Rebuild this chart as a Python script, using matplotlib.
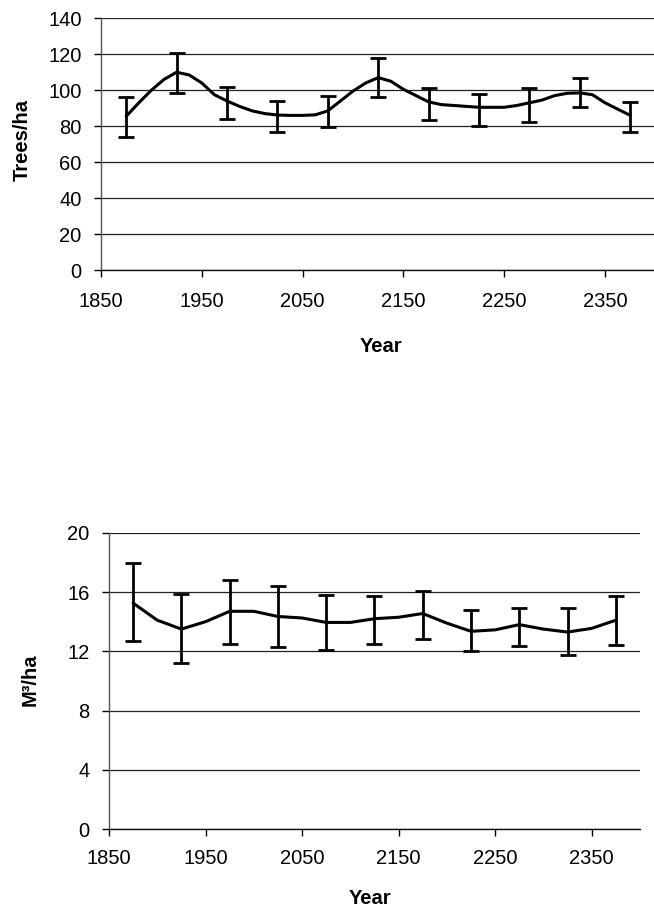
import matplotlib
matplotlib.use("Agg")
import matplotlib.pyplot as plt

plt.rcParams['font.family'] = ['Liberation Sans', 'DejaVu Sans']

# ---------------- data: top panel (Trees/ha) ----------------
top_years = [1875, 1887.5, 1900, 1912.5, 1925, 1937.5, 1950, 1962.5, 1975, 1987.5,
             2000, 2012.5, 2025, 2037.5, 2050, 2062.5, 2075, 2087.5, 2100, 2112.5,
             2125, 2137.5, 2150, 2162.5, 2175, 2187.5, 2200, 2212.5, 2225, 2237.5,
             2250, 2262.5, 2275, 2287.5, 2300, 2312.5, 2325, 2337.5, 2350, 2362.5, 2375]
top_trees = [85.5, 93, 100, 106, 110, 108.5, 104, 97.5, 94, 91,
             88.5, 87, 86.2, 86, 86, 86.3, 88.5, 94, 99.5, 104,
             107, 105, 100.5, 97, 93.5, 92, 91.5, 91, 90.5, 90.5,
             90.5, 91.5, 93, 94.5, 97, 98.3, 98.5, 97.5, 93, 89.5, 86]

bar_years = [1875, 1925, 1975, 2025, 2075, 2125, 2175, 2225, 2275, 2325, 2375]
top_bar_mean = [85.5, 110, 94, 86.2, 88.5, 107, 93.5, 90.5, 93, 98.5, 86]
top_bar_high = [96, 120.5, 101.6, 93.8, 96.8, 118, 101.4, 98, 101.5, 107, 93.5]
top_bar_low = [74, 98.5, 84, 77, 79.5, 96.5, 83.5, 80, 82.5, 90.5, 76.5]

# ---------------- data: bottom panel (M3/ha) ----------------
bot_years = [1875, 1900, 1925, 1950, 1975, 2000, 2025, 2050, 2075, 2100, 2125,
             2150, 2175, 2200, 2225, 2250, 2275, 2300, 2325, 2350, 2375]
bot_vol = [15.25, 14.1, 13.5, 14.0, 14.7, 14.7, 14.35, 14.25, 13.95, 13.95, 14.2,
           14.3, 14.55, 13.9, 13.35, 13.45, 13.8, 13.5, 13.3, 13.55, 14.1]
bot_bar_mean = [15.25, 13.5, 14.7, 14.35, 13.95, 14.2, 14.55, 13.35, 13.8, 13.3, 14.1]
bot_bar_high = [17.95, 15.84, 16.8, 16.4, 15.8, 15.75, 16.05, 14.8, 14.9, 14.9, 15.7]
bot_bar_low = [12.7, 11.24, 12.5, 12.3, 12.1, 12.5, 12.8, 12.05, 12.35, 11.75, 12.45]

x_ticks = [1850, 1950, 2050, 2150, 2250, 2350]
top_yticks = [0, 20, 40, 60, 80, 100, 120, 140]
bot_yticks = [0, 4, 8, 12, 16, 20]

W, H = 654, 908
fig = plt.figure(figsize=(W / 100, H / 100), dpi=100)


def style(ax, yticks, ylim, xpad):
    ax.set_xlim(1850, 2400)
    ax.set_ylim(*ylim)
    ax.set_xticks(x_ticks)
    ax.set_yticks(yticks)
    ax.grid(axis='y', color='#222222', lw=0.9)
    ax.grid(axis='x', visible=False)
    ax.set_axisbelow(True)
    for s in ('top', 'right'):
        ax.spines[s].set_visible(False)
    ax.spines['left'].set_color('#555555')
    ax.spines['left'].set_linewidth(1.0)
    ax.spines['bottom'].set_color('#111111')
    ax.spines['bottom'].set_linewidth(1.0)
    ax.tick_params(axis='both', direction='out', length=5, width=1,
                   labelsize=14.5, colors='black')
    ax.tick_params(axis='y', pad=9)
    ax.tick_params(axis='x', pad=xpad)


def draw(ax, years, vals, byears, bmean, bhigh, blow):
    ax.plot(years, vals, color='black', lw=2.2, solid_joinstyle='round',
            solid_capstyle='round', zorder=3)
    lower = [m - l for m, l in zip(bmean, blow)]
    upper = [h - m for m, h in zip(bmean, bhigh)]
    ax.errorbar(byears, bmean, yerr=[lower, upper], fmt='none', ecolor='black',
                elinewidth=2.0, capsize=6, capthick=2.0, zorder=4)


# top panel
ax1 = fig.add_axes([101 / W, 1 - 270 / H, (655.4 - 101) / W, (270 - 18.3) / H])
style(ax1, top_yticks, (0, 140), 11)
draw(ax1, top_years, top_trees, bar_years, top_bar_mean, top_bar_high, top_bar_low)
fig.text(381 / W, 1 - 347 / H, 'Year', ha='center', va='center',
         fontsize=14.5, fontweight='bold')
fig.text(22 / W, 1 - 140 / H, 'Trees/ha', ha='center', va='center',
         rotation=90, fontsize=14.5, fontweight='bold')

# bottom panel
ax2 = fig.add_axes([109 / W, 1 - 829.3 / H, (640 - 109) / W, (829.3 - 532.7) / H])
style(ax2, bot_yticks, (0, 20), 9)
draw(ax2, bot_years, bot_vol, bar_years, bot_bar_mean, bot_bar_high, bot_bar_low)
fig.text(370 / W, 1 - 898 / H, 'Year', ha='center', va='center',
         fontsize=14.5, fontweight='bold')
fig.text(30 / W, 1 - 680 / H, 'M³/ha', ha='center', va='center',
         rotation=90, fontsize=14.5, fontweight='bold')

fig.savefig('out.png', dpi=100)
